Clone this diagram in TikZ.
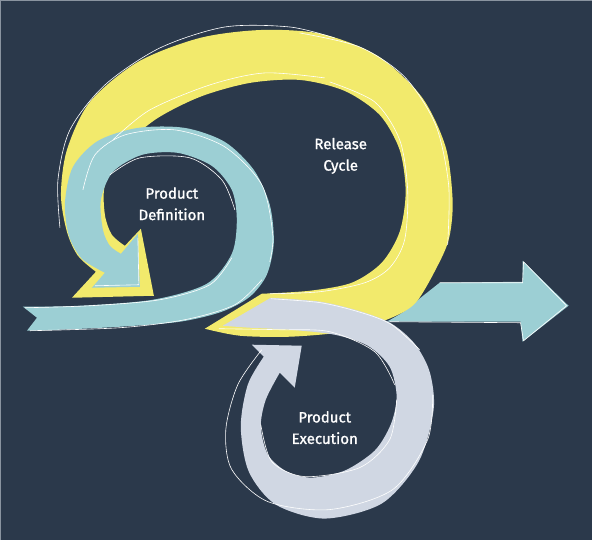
\documentclass[tikz,border=0pt]{standalone}
\usepackage{fontspec}
\setmainfont{Fira Sans}
\newfontfamily\lblfont[FakeBold=1.2]{Fira Sans}
\usepackage{tikz}
\usetikzlibrary{positioning}
\definecolor{bgnavy}{HTML}{2B394B}
\definecolor{edgegrey}{HTML}{8A94A0}
\definecolor{relyellow}{HTML}{F2EA6C}
\definecolor{defteal}{HTML}{9CCFD4}
\definecolor{exegrey}{HTML}{D0D7E3}
\tikzstyle{sketch}=[draw=white, line width=0.6pt]
\tikzstyle{lbl}=[text=white, align=center, font=\lblfont\fontsize{15}{21.5}\selectfont]

\begin{document}
\begin{tikzpicture}[x=1pt,y=-1pt]

\fill[bgnavy] (0,0) rectangle (592,540);
\draw[edgegrey, line width=1pt] (0.5,540) -- (0.5,0.5) -- (592,0.5);

% exit arrow
\fill[defteal] plot[smooth] coordinates {(387,322) (404,312) (421,298) (440,283)} -- (523,282) -- (523,261) -- (569,306) -- (523,342) -- (521,322) -- cycle;

% release cycle
\fill[relyellow] (205,329) -- plot[smooth] coordinates {(262,294) (310,291) (352,283) (382,263) (400,232) (406,192) (400,150) (380,115) (345,91) (300,80) (250,83) (200,97) (155,120) (122,150) (105,185) (105,215) (112,235) (125,246)} -- (141,229) -- (154,296) -- (72,298) -- plot[smooth] coordinates {(96,272) (78,256) (67,232) (61,195) (67,150) (90,102) (138,62) (200,38) (262,30) (322,34) (378,56) (422,97) (446,147) (453,200) (450,236) (440,262) (416,303) (387,320) (345,332) (290,337) (240,336) (205,329)} -- cycle;

% product definition
\fill[defteal] (23,307) -- plot[smooth] coordinates {(23,307) (80,306) (153,300) (207,284) (232,254) (237,220) (232,190) (212,166) (178,153) (142,155) (113,172) (101,200) (103,230) (110,246) (121,254)} -- (138,234) -- (140,287) -- (92,288) -- plot[smooth] coordinates {(105,273) (82,259) (69,236) (65,203) (73,167) (98,141) (138,128) (185,128) (225,142) (254,170) (270,205) (274,243) (267,275) (250,297) (222,312) (180,322) (120,327) (60,330) (27,331)} -- (37,318) -- cycle;

% product execution
\fill[exegrey] (223,326) -- plot[smooth] coordinates {(271,298) (321,302) (362,312) (392,324) (415,344) (430,372) (434,410) (419,462) (382,504) (325,519) (276,505) (249,472) (241,427) (248,385) (264,357)} -- (252,345) -- (302,346) -- (295,388) -- plot[smooth] coordinates {(280,373) (266,400) (261,427) (268,455) (287,472) (312,478) (345,471) (375,451) (391,425) (397,397) (390,367) (368,346) (335,335) (290,330) (250,328) (223,326)} -- cycle;

% sketch lines
\draw[sketch] plot[smooth] coordinates {(60,228) (58,180) (70,130) (105,85) (160,48) (225,27) (290,27) (335,38)};
\draw[sketch] plot[smooth] coordinates {(300,33) (360,47) (405,77) (436,125) (449,185) (448,245)};
\draw[sketch] plot[smooth] coordinates {(113,140) (150,110) (210,85) (265,73) (325,78)};
\draw[sketch] plot[smooth] coordinates {(330,82) (375,102) (400,140) (408,190) (405,240) (390,268) (365,283) (320,292) (270,294)};
\draw[sketch] plot[smooth] coordinates {(83,190) (95,155) (125,135) (175,130) (225,147) (262,185) (273,235) (270,262)};
\draw[sketch] plot[smooth] coordinates {(110,175) (140,158) (190,158) (222,180) (235,210)};
\draw[sketch] plot[smooth] coordinates {(25,308) (90,306) (160,300) (210,285) (232,258)};
\draw[sketch] plot[smooth] coordinates {(30,331) (120,328) (185,320) (235,305) (262,280)};
\draw[sketch] (95,286) -- (139,285) -- (138,238);
\draw[sketch] plot[smooth] coordinates {(262,350) (238,385) (226,430) (232,470) (268,502) (330,510) (393,490) (428,440) (433,395)};
\draw[sketch] plot[smooth] coordinates {(219,329) (280,330) (330,332) (375,352) (395,385)};
\draw[sketch] plot[smooth] coordinates {(397,400) (390,440) (360,468) (305,477) (272,462) (261,425)};
\draw[sketch] plot[smooth] coordinates {(271,299) (321,303) (362,313) (392,325) (420,350)};
\draw[sketch] (440,283) -- (523,283) -- (524,262) -- (567,306) -- (524,341) -- (521,323) -- (390,322);

\node[lbl] (release) at (341,156) {Release\\Cycle};
\node[lbl] (definition) at (172,204) {Product\\Definition};
\node[lbl] (execution) at (325,428) {Product\\Execution};

\end{tikzpicture}
\end{document}
